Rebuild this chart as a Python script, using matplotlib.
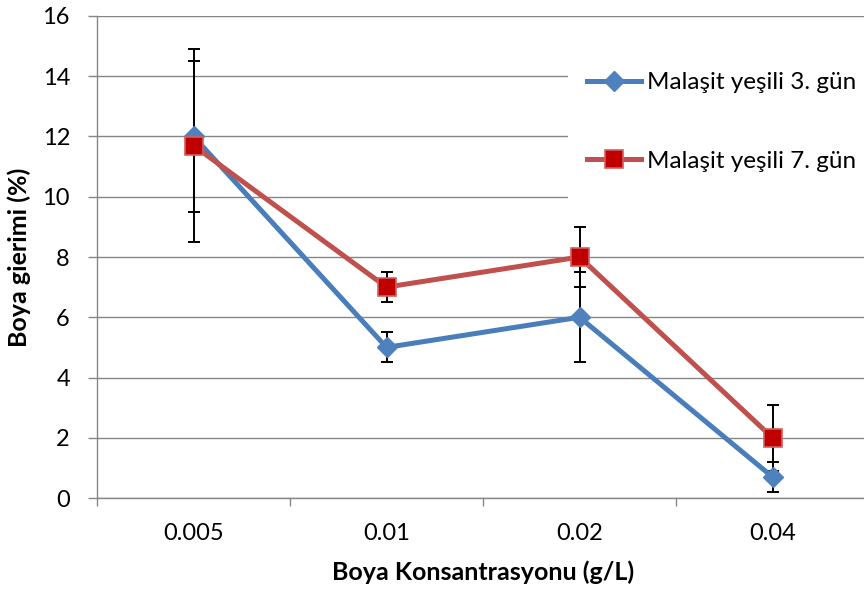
import numpy as np
import matplotlib.pyplot as plt
from matplotlib.lines import Line2D
from matplotlib.patches import Rectangle

plt.rcParams['font.family'] = ['Lato', 'DejaVu Sans']

# Boya konsantrasyonu kategorileri ve ölçülen giderim değerleri
konsantrasyon = ['0.005', '0.01', '0.02', '0.04']
gun3 = [12.0, 5.0, 6.0, 0.7]
gun3_hata = [2.5, 0.5, 1.5, 0.5]
gun7 = [11.7, 7.0, 8.0, 2.0]
gun7_hata = [3.2, 0.5, 1.0, 1.1]

yticks = [0, 2, 4, 6, 8, 10, 12, 14, 16]

MAVI = '#4A7EBB'
MAVI_DOLGU = '#4F81BD'
KIRMIZI = '#C0504D'
KIRMIZI_DOLGU = '#C00000'
GRI = '#868686'
YAZI = 17

fig = plt.figure(figsize=(8.64, 5.90), dpi=100)
ax = fig.add_axes([0.1123, 0.1559, 0.8935, 0.8170])

x = np.arange(len(konsantrasyon))

ax.errorbar(x, gun3, yerr=gun3_hata, fmt='none', ecolor='black',
            elinewidth=1.4, capsize=4.5, capthick=1.4, zorder=2)
ax.errorbar(x, gun7, yerr=gun7_hata, fmt='none', ecolor='black',
            elinewidth=1.4, capsize=4.5, capthick=1.4, zorder=2)

stil3 = dict(color=MAVI, lw=3.6, marker='D', ms=10,
             mfc=MAVI_DOLGU, mec=MAVI_DOLGU, solid_joinstyle='round')
stil7 = dict(color=KIRMIZI, lw=3.6, marker='s', ms=13,
             mfc=KIRMIZI_DOLGU, mec='#D06060', mew=1.2, solid_joinstyle='round')
ax.plot(x, gun3, zorder=3, **stil3)
ax.plot(x, gun7, zorder=4, **stil7)

ax.set_xlim(-0.5, len(konsantrasyon) - 0.5)
ax.set_ylim(0, 16)
ax.set_yticks(yticks)
ax.set_yticklabels([str(v) for v in yticks], fontsize=YAZI)
ax.set_xticks(x)
ax.set_xticklabels(konsantrasyon, fontsize=YAZI)
ax.tick_params(axis='x', length=0, pad=18)
ax.tick_params(axis='y', length=6.5, color=GRI, width=1, pad=13)

# kategori sınırlarında küçük çentikler
ax.set_xticks(np.arange(-0.5, len(konsantrasyon), 1), minor=True)
ax.tick_params(axis='x', which='minor', length=6, color=GRI, width=1)

ax.yaxis.grid(True, color=GRI, lw=1)
ax.set_axisbelow(True)
for side in ['top', 'right']:
    ax.spines[side].set_visible(False)
for side in ['left', 'bottom']:
    ax.spines[side].set_color(GRI)
    ax.spines[side].set_linewidth(1)

ax.set_xlabel('Boya Konsantrasyonu (g/L)', fontsize=18, fontweight='bold',
              labelpad=12)
ax.set_ylabel('Boya gierimi (%)', fontsize=18, fontweight='bold', labelpad=8)

# lejant alanı beyaz zeminle ızgarayı örter
ax.add_patch(Rectangle((568 / 864, 1 - 212 / 590), 1 - 568 / 864, 160 / 590,
                       transform=fig.transFigure, facecolor='white',
                       edgecolor='none', zorder=1, clip_on=False))

h3 = Line2D([], [], **stil3)
h7 = Line2D([], [], **stil7)
fig.legend([h3, h7], ['Malaşit yeşili 3. gün', 'Malaşit yeşili 7. gün'],
           loc='center left', bbox_to_anchor=(587 / 864, 1 - 122 / 590),
           frameon=False, fontsize=17.5, handlelength=2.22,
           handletextpad=0.25, labelspacing=2.35, borderpad=0,
           borderaxespad=0)

fig.savefig('out.png', dpi=100)
